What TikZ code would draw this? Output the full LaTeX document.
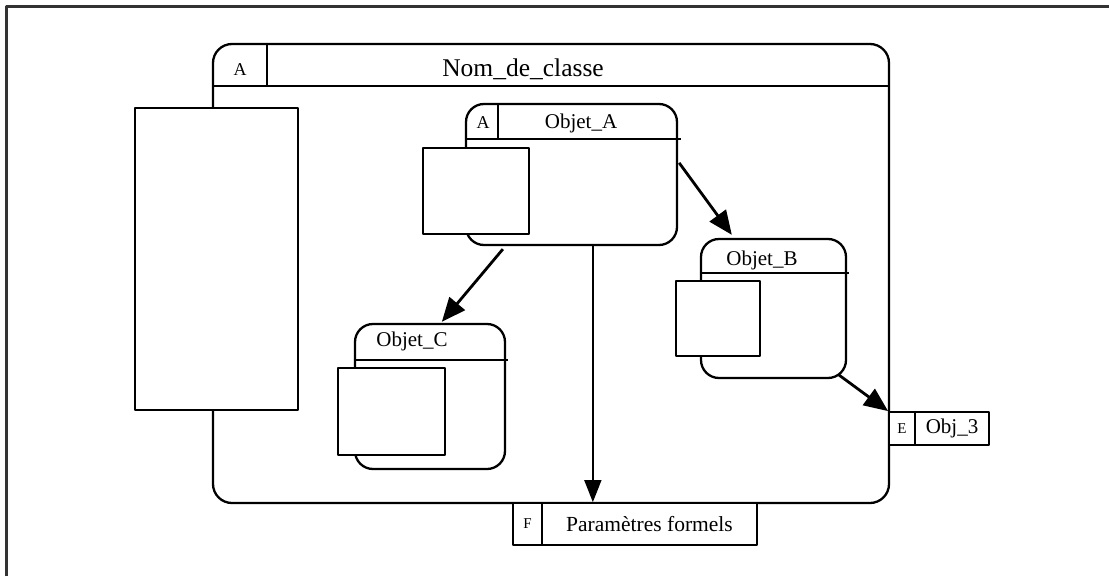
\documentclass[tikz,border=0pt]{standalone}
\usepackage{fontspec}
\setmainfont{Liberation Serif}
\usetikzlibrary{arrows.meta,calc}
\begin{document}
\begin{tikzpicture}[x=1pt,y=-1pt,
  line join=round,
  rbox/.style={draw, line width=2.3pt, rounded corners=19pt, inner sep=0pt},
  sqbox/.style={draw, line width=2.3pt, fill=white, inner sep=0pt},
  cellbox/.style={draw, line width=1.8pt, fill=white, inner sep=0pt},
  hrule/.style={line width=2.3pt},
  bigtxt/.style={inner sep=0pt, font=\fontsize{25.5}{28}\selectfont},
  nametxt/.style={inner sep=0pt, font=\fontsize{21}{24}\selectfont},
  smalltxt/.style={inner sep=0pt, font=\fontsize{18}{20}\selectfont},
  arr/.style={line width=2.8pt, -{Triangle[length=24pt,width=20pt]}},
  thinarr/.style={line width=1.8pt, -{Triangle[length=22pt,width=17pt]}}
]
\useasboundingbox (0,0) rectangle (1109,576);
% outer frame (only left and top edges visible)
\draw[line width=3pt, black!80] (6,576) -- (6,6) -- (1109,6);

% class box
\node[rbox, minimum width=676pt, minimum height=459pt] (cls) at (551,273.5) {};
\draw[hrule] ($(cls.north west)+(0,43)$) -- ($(cls.north east)+(0,43)$);
\draw[hrule] ($(cls.north west)+(55,0)$) -- ($(cls.north west)+(55,43)$);
\node[smalltxt] (clsA) at (240,70) {A};
\node[bigtxt] (clsname) at (523,69) {Nom\_de\_classe};

% left rectangle
\node[sqbox, minimum width=163pt, minimum height=302pt] (left) at (216.5,259) {};

% Objet_A
\node[rbox, rounded corners=18pt, minimum width=211pt, minimum height=141pt] (objA) at (571.5,174.5) {};
\draw[hrule] ($(objA.north west)+(0,36)$) -- ($(objA.north east)+(3,36)$);
\draw[hrule] ($(objA.north west)+(33,0)$) -- ($(objA.north west)+(33,36)$);
\node[smalltxt] (objAA) at (483,123) {A};
\node[nametxt] (objAname) at (581,123) {Objet\_A};
\node[sqbox, minimum width=106pt, minimum height=86pt] (objAin) at (476,191) {};

% Objet_B
\node[rbox, rounded corners=18pt, minimum width=145pt, minimum height=139pt] (objB) at (773.5,308.5) {};
\draw[hrule] ($(objB.north west)+(0,35)$) -- ($(objB.north east)+(2,35)$);
\node[nametxt] (objBname) at (762,260) {Objet\_B};
\node[sqbox, minimum width=84pt, minimum height=75pt] (objBin) at (718,318.5) {};

% Objet_C
\node[rbox, rounded corners=18pt, minimum width=150pt, minimum height=145pt] (objC) at (430,396.5) {};
\draw[hrule] ($(objC.north west)+(0,37)$) -- ($(objC.north east)+(2,37)$);
\node[nametxt] (objCname) at (412,341) {Objet\_C};
\node[sqbox, minimum width=107pt, minimum height=87pt] (objCin) at (391.5,411.5) {};

% Obj_3
\node[cellbox, minimum width=26pt, minimum height=33pt, font=\fontsize{15}{17}\selectfont] (o3e) at (902,428.5) {E};
\node[cellbox, minimum width=74pt, minimum height=33pt, font=\fontsize{21}{24}\selectfont] (o3) at (952,428.5) {Obj\_3};

% Parametres formels
\node[cellbox, minimum width=29pt, minimum height=42pt, font=\fontsize{15}{17}\selectfont] (pf) at (527.5,524) {F};
\node[cellbox, minimum width=215pt, minimum height=42pt, font=\fontsize{21.5}{24}\selectfont] (pname) at (649.5,524) {Paramètres formels\hspace{17pt}};

% connectors
\coordinate (aC) at ($(objA.south west)+(38,3)$);
\coordinate (cTop) at ($(objC.north west)+(88,-1)$);
\draw[arr] (aC) -- (cTop);
\coordinate (aB) at ($(objA.north east)+(1,60)$);
\coordinate (bTop) at ($(objB.north west)+(32,-3)$);
\draw[arr] (aB) -- (bTop);
\coordinate (bO) at ($(objB.south east)+(-8,-4)$);
\draw[arr] (bO) -- (o3e.north west);
\coordinate (aF) at ($(objA.south west)+(128,0)$);
\draw[thinarr] (aF) -- (aF |- pname.north);
\end{tikzpicture}
\end{document}
